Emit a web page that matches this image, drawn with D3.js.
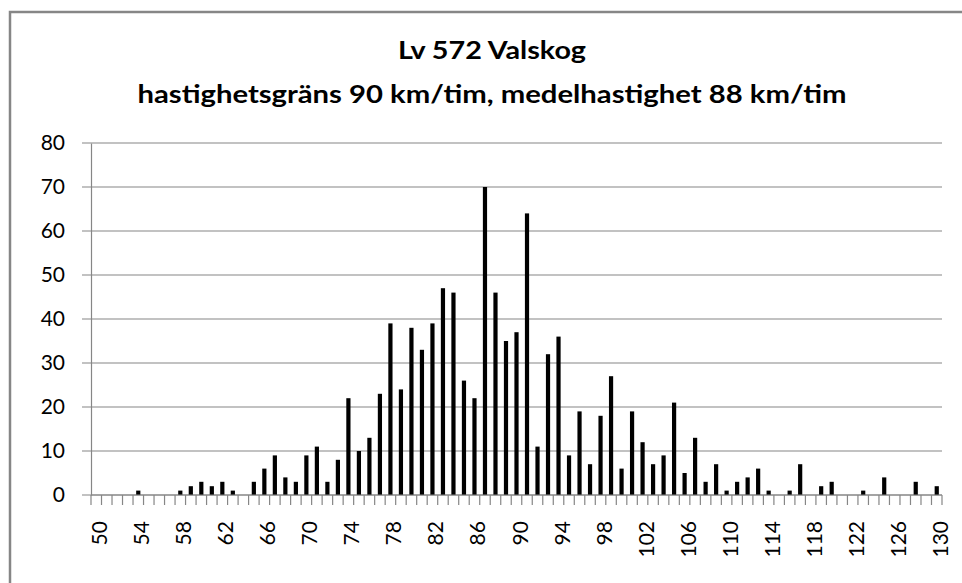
<!DOCTYPE html>
<html>
<head>
<meta charset="utf-8">
<script src="https://cdn.jsdelivr.net/npm/d3@7"></script>
<style>
  body { margin: 0; background: #fff; }
  .axis text { font-family: Lato, "Open Sans", sans-serif; fill: #000; }
</style>
</head>
<body>
<div id="chart"></div>
<script>
// speeds (km/tim) on the x axis
var speeds = d3.range(50, 131);
// number of vehicles per speed
var counts = [
    0, 0, 0, 0, 1, 0, 0, 0, 1, 2,      // 50-59
    3, 2, 3, 1, 0, 3, 6, 9, 4, 3,      // 60-69
    9, 11, 3, 8, 22, 10, 13, 23, 39, 24, // 70-79
    38, 33, 39, 47, 46, 26, 22, 70, 46, 35, // 80-89
    37, 64, 11, 32, 36, 9, 19, 7, 18, 27,  // 90-99
    6, 19, 12, 7, 9, 21, 5, 13, 3, 7,      // 100-109
    1, 3, 4, 6, 1, 0, 1, 7, 0, 2,          // 110-119
    3, 0, 0, 1, 0, 4, 0, 0, 3, 0,          // 120-129
    2                                      // 130
];
var yTicks = [0, 10, 20, 30, 40, 50, 60, 70, 80];
var titleLines = ["Lv 572 Valskog", "hastighetsgräns 90 km/tim, medelhastighet 88 km/tim"];
var titleWidths = [188, 709];

var width = 962, height = 583;
var margin = {left: 91, right: 20, top: 143, bottom: 88};

var svg = d3.select("#chart").append("svg")
    .attr("width", width)
    .attr("height", height);

// chart border (runs off the right and bottom edge)
svg.append("rect")
    .attr("x", 10).attr("y", 12)
    .attr("width", 980).attr("height", 600)
    .attr("fill", "none")
    .attr("stroke", "#868686")
    .attr("stroke-width", 2.5);

// title, stretched a bit wider like the original
svg.append("g").selectAll("text")
    .data(titleLines)
    .enter().append("text")
    .attr("x", 492)
    .attr("y", function(d, i) { return 59 + i * 44; })
    .attr("text-anchor", "middle")
    .attr("font-family", "Lato, 'Open Sans', sans-serif")
    .attr("font-weight", "bold")
    .attr("font-size", "24px")
    .attr("textLength", function(d, i) { return titleWidths[i]; })
    .attr("lengthAdjust", "spacingAndGlyphs")
    .text(function(d) { return d; });

var x = d3.scaleBand()
    .domain(speeds)
    .range([margin.left, width - margin.right])
    .paddingInner(0.6)
    .paddingOuter(0.3);

var y = d3.scaleLinear()
    .domain([0, 80])
    .range([height - margin.bottom, margin.top]);

// gridlines with outside tick
svg.append("g")
    .selectAll("line")
    .data(yTicks)
    .enter().append("line")
    .attr("x1", margin.left - 9)
    .attr("x2", width - margin.right)
    .attr("y1", function(d) { return y(d); })
    .attr("y2", function(d) { return y(d); })
    .attr("stroke", "#868686")
    .attr("stroke-width", 1.2);

// y axis
var yAxis = d3.axisLeft(y).tickValues(yTicks).tickSize(0).tickPadding(26);
svg.append("g")
    .attr("class", "axis")
    .attr("transform", "translate(" + margin.left + ",0)")
    .call(yAxis)
    .call(function(g) {
        g.select(".domain").attr("stroke", "#868686").attr("stroke-width", 1.2);
        g.selectAll("text").attr("font-size", "21px");
    });

// bars
svg.append("g")
    .selectAll("rect")
    .data(counts)
    .enter().append("rect")
    .attr("x", function(d, i) { return x(speeds[i]); })
    .attr("y", function(d) { return y(d); })
    .attr("width", x.bandwidth())
    .attr("height", function(d) { return y(0) - y(d); })
    .attr("fill", "#000");

// x axis: tick marks at category boundaries, label every 4th
var x0 = y(0);
var catW = (width - margin.right - margin.left) / speeds.length;
svg.append("g")
    .selectAll("line")
    .data(speeds.concat([131]))
    .enter().append("line")
    .attr("x1", function(d, i) { return margin.left + i * catW; })
    .attr("x2", function(d, i) { return margin.left + i * catW; })
    .attr("y1", x0)
    .attr("y2", x0 + 10)
    .attr("stroke", "#868686")
    .attr("stroke-width", 1.2);

svg.append("line")
    .attr("x1", margin.left).attr("x2", width - margin.right)
    .attr("y1", x0).attr("y2", x0)
    .attr("stroke", "#868686")
    .attr("stroke-width", 1.2);

svg.append("g")
    .attr("class", "axis")
    .selectAll("text")
    .data(speeds.filter(function(d) { return (d - 50) % 4 === 0; }))
    .enter().append("text")
    .attr("transform", function(d) {
        var cx = x(d) + x.bandwidth() / 2;
        return "translate(" + (cx + 11) + "," + (x0 + 26) + ") rotate(-90)";
    })
    .attr("text-anchor", "end")
    .attr("font-size", "21px")
    .text(function(d) { return d; });
</script>
</body>
</html>
